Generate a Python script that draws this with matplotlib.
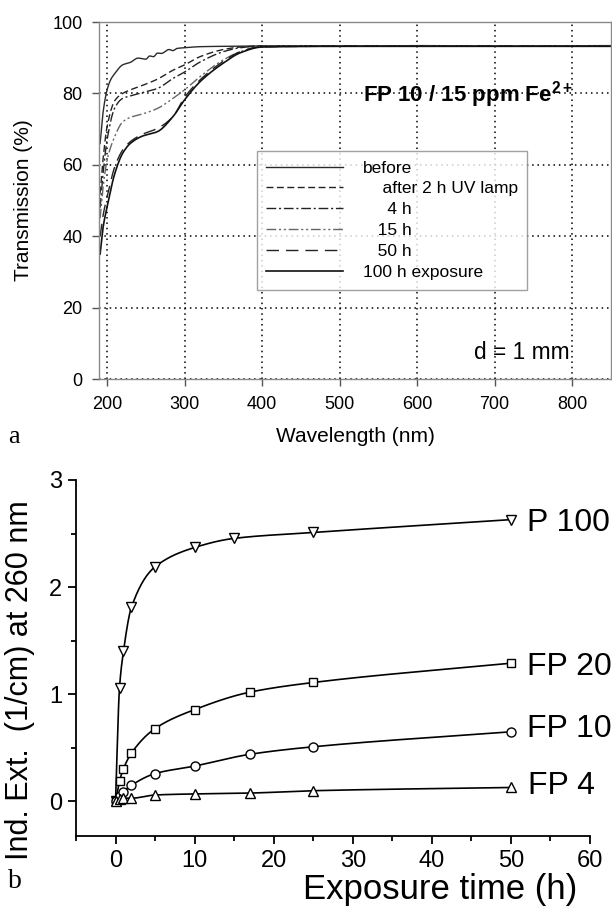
import numpy as np
import matplotlib
matplotlib.use("Agg")
import matplotlib.pyplot as plt
from matplotlib.ticker import MultipleLocator

plt.rcParams['font.family'] = ['Liberation Sans', 'DejaVu Sans']
plt.rcParams['mathtext.fontset'] = 'custom'
plt.rcParams['mathtext.rm'] = 'Liberation Sans'
plt.rcParams['mathtext.bf'] = 'Liberation Sans:bold'

# ---- (a) transmission spectra, FP 10 / 15 ppm Fe2+ ----
wl_before = [191, 195, 200, 205, 210, 220, 230, 240, 250, 255, 260, 265, 270,
             280, 285, 290, 300, 320, 350, 400, 500, 600, 700, 850]
tr_before = [66, 75, 81, 84, 85.6, 88, 88.7, 89.9, 89.6, 90.5, 90.3, 91.3, 91.2,
             92.3, 92.0, 92.6, 92.8, 93.1, 93.2, 93.3, 93.3, 93.4, 93.3, 93.4]

wl_uv = [191, 195, 200, 210, 220, 230, 245, 265, 285, 300, 320, 350, 372,
         400, 500, 600, 700, 850]
tr_2h = [52, 62, 70.7, 78, 80, 81, 82.2, 84, 86.5, 88, 90.3, 92.3, 93.0,
         93.3, 93.3, 93.3, 93.3, 93.3]
tr_4h = [48, 58, 67, 76, 78.6, 79.3, 80.2, 81.4, 84.2, 86, 88.8, 91.7, 92.8,
         93.3, 93.3, 93.3, 93.3, 93.3]
tr_15h = [45, 54, 61.3, 68, 72, 73.3, 74.2, 75.8, 78.6, 81, 84.7, 89.4, 91.7,
          93.2, 93.3, 93.3, 93.3, 93.3]
tr_50h = [40, 46, 51, 59.5, 64.1, 66.5, 68.5, 70.2, 73.5, 78.9, 83.8, 89, 91.7,
          93.1, 93.2, 93.2, 93.2, 93.2]
tr_100h = [35, 42.7, 48.2, 57.6, 63.2, 66, 68, 69.3, 73.5, 78.2, 83.3, 88.5, 91.4,
           93.0, 93.2, 93.2, 93.2, 93.2]

spectra_labels = ["before", "    after 2 h UV lamp", "     4 h", "   15 h",
                  "   50 h", "100 h exposure"]

# ---- (b) induced extinction at 260 nm vs exposure time ----
t_p100 = [0, 0.5, 1, 2, 5, 10, 15, 25, 50]
e_p100 = [0, 1.06, 1.40, 1.81, 2.19, 2.37, 2.455, 2.51, 2.63]
t_fp20 = [0, 0.5, 1, 2, 5, 10, 17, 25, 50]
e_fp20 = [0, 0.19, 0.305, 0.45, 0.68, 0.857, 1.02, 1.11, 1.29]
t_fp10 = [0, 0.5, 1, 2, 5, 10, 17, 25, 50]
e_fp10 = [0, 0.05, 0.09, 0.15, 0.26, 0.33, 0.44, 0.51, 0.65]
t_fp4 = [0, 0.5, 1, 2, 5, 10, 17, 25, 50]
e_fp4 = [0, 0.02, 0.03, 0.03, 0.06, 0.07, 0.078, 0.10, 0.13]
glass_names = ["P 100", "FP 20", "FP 10", "FP 4"]


def pchip(x, y, xn):
    """Shape-preserving piecewise cubic Hermite curve through (x, y)."""
    x = np.asarray(x, float)
    y = np.asarray(y, float)
    h = np.diff(x)
    d = np.diff(y) / h
    m = np.zeros_like(y)
    for k in range(1, len(x) - 1):
        if d[k - 1] * d[k] > 0:
            w1 = 2 * h[k] + h[k - 1]
            w2 = h[k] + 2 * h[k - 1]
            m[k] = (w1 + w2) / (w1 / d[k - 1] + w2 / d[k])
    m[0] = d[0]
    m[-1] = d[-1]
    idx = np.clip(np.searchsorted(x, xn) - 1, 0, len(x) - 2)
    hh = h[idx]
    s = (xn - x[idx]) / hh
    h00 = 2 * s**3 - 3 * s**2 + 1
    h10 = s**3 - 2 * s**2 + s
    h01 = -2 * s**3 + 3 * s**2
    h11 = s**3 - s**2
    return h00 * y[idx] + h10 * hh * m[idx] + h01 * y[idx + 1] + h11 * hh * m[idx + 1]


fig = plt.figure(figsize=(6.12, 9.07), dpi=100)

# ================= panel a =================
axa = fig.add_axes([0.1623, 0.5821, 0.8357, 0.3936])
styles = [
    dict(ls='-', lw=1.0, color='#2a2a2a'),
    dict(ls=(0, (5, 2.5)), lw=1.0, color='#222222'),
    dict(ls=(0, (7, 2, 1.5, 2)), lw=1.0, color='#222222'),
    dict(ls=(0, (7, 2, 1.5, 2, 1.5, 2)), lw=1.0, color='#666666'),
    dict(ls=(0, (9, 5)), lw=1.0, color='#222222'),
    dict(ls='-', lw=1.2, color='#111111'),
]
series = [(wl_before, tr_before), (wl_uv, tr_2h), (wl_uv, tr_4h),
          (wl_uv, tr_15h), (wl_uv, tr_50h), (wl_uv, tr_100h)]
for (wl, tr), st, lab in zip(series, styles, spectra_labels):
    xs = np.linspace(wl[0], wl[-1], 700)
    axa.plot(xs, pchip(wl, tr, xs), label=lab, **st)

axa.set_xlim(190, 850)
axa.set_ylim(0, 100)
axa.set_xticks(range(200, 801, 100))
axa.set_yticks(range(0, 101, 20))
axa.grid(True, color='black', ls=(0, (1, 2.5)), lw=1.1)
for sp in axa.spines.values():
    sp.set_color('#8a8a8a')
    sp.set_linewidth(1.0)
axa.tick_params(direction='out', length=5, width=1.0, color='#555555',
                labelsize=13, pad=7)
axa.set_xlabel("Wavelength (nm)", fontsize=15, labelpad=10)
axa.set_ylabel("Transmission (%)", fontsize=15, labelpad=14)

leg = axa.legend(loc='upper left', bbox_to_anchor=(0.308, 0.639), fontsize=12.5,
                 frameon=True, fancybox=False, edgecolor='#8a8a8a',
                 handlelength=4.4, handletextpad=1.15, labelspacing=0.33,
                 borderpad=0.55, borderaxespad=0)
leg.get_frame().set_linewidth(1.0)

axa.text(0.515, 0.798, r"FP 10 / 15 ppm Fe$^{\mathbf{2+}}$", transform=axa.transAxes,
         fontsize=16, fontweight='bold', ha='left', va='center')
axa.text(0.732, 0.073, "d = 1 mm", transform=axa.transAxes, fontsize=16.4,
         ha='left', va='center')
fig.text(0.013, 1 - 437 / 907, "a", family='Liberation Serif', fontsize=19,
         va='center', ha='left')

# ================= panel b =================
axb = fig.add_axes([0.1242, 0.0786, 0.8399, 0.3922])
marks = ['v', 's', 'o', '^']
msizes = [7.5, 6, 6.5, 6.5]
data_b = [(t_p100, e_p100), (t_fp20, e_fp20), (t_fp10, e_fp10), (t_fp4, e_fp4)]
for (t, e), mk, ms in zip(data_b, marks, msizes):
    ts = np.linspace(t[0], t[-1], 800)
    axb.plot(ts, pchip(t, e, ts), color='black', lw=1.2, zorder=2)
    axb.plot(t, e, ls='none', marker=mk, ms=ms, mfc='white', mec='black',
             mew=1.0, zorder=3)

label_pos = [(52, 2.60), (52, 1.255), (52, 0.673), (52.2, 0.14)]
for name, (x, y) in zip(glass_names, label_pos):
    axb.text(x, y, name, fontsize=23, ha='left', va='center', clip_on=False)

axb.set_xlim(-5, 60)
axb.set_ylim(-0.32, 3)
axb.set_xticks(range(0, 61, 10))
axb.set_yticks([0, 1, 2, 3])
axb.xaxis.set_minor_locator(MultipleLocator(5))
axb.yaxis.set_minor_locator(MultipleLocator(0.5))
axb.spines['top'].set_visible(False)
axb.spines['right'].set_visible(False)
for s in ('left', 'bottom'):
    axb.spines[s].set_linewidth(1.3)
axb.tick_params(which='major', direction='out', length=6, width=1.3,
                labelsize=17, pad=4)
axb.tick_params(which='minor', direction='out', length=3.5, width=1.3)

fig.text(303 / 612, 1 - 889 / 907, "Exposure time (h)", fontsize=25,
         ha='left', va='center')
fig.text(20 / 612, 1 - 680 / 907, "Ind. Ext.  (1/cm) at 260 nm", fontsize=22,
         rotation=90, ha='center', va='center')
fig.text(0.013, 1 - 882 / 907, "b", family='Liberation Serif', fontsize=20,
         va='center', ha='left')

fig.savefig("out.png", dpi=100)
